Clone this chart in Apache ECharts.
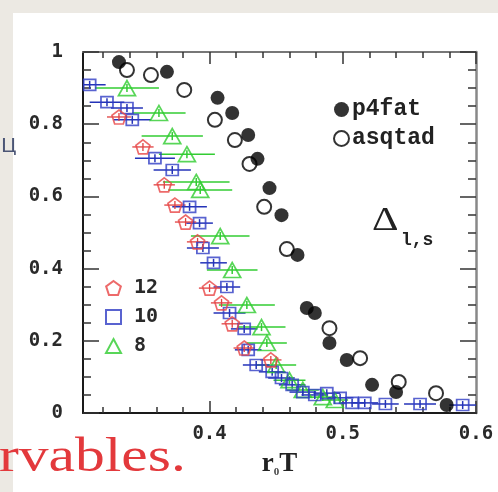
<!DOCTYPE html>
<html><head><meta charset="utf-8">
<script src="https://cdn.jsdelivr.net/npm/echarts@6/dist/echarts.min.js"></script>
<style>html,body{margin:0;padding:0;background:#fff}#c{width:498px;height:492px}</style>
</head><body><div id="c"></div><script>
// ---- data ----
const xMajorTicks = [0.4, 0.5, 0.6];
const xMinorTicks = [0.32,0.34,0.36,0.38,0.42,0.44,0.46,0.48,0.52,0.54,0.56,0.58];
const yMajorTicks = [0, 0.2, 0.4, 0.6, 0.8, 1];
const yMinorTicks = [0.05,0.1,0.15,0.25,0.3,0.35,0.45,0.5,0.55,0.65,0.7,0.75,0.85,0.9,0.95];

// [rT, value]
const p4fat = [[0.332,0.972],[0.368,0.945],[0.406,0.873],[0.417,0.831],[0.429,0.770],[0.436,0.704],[0.445,0.623],[0.454,0.548],[0.466,0.438],[0.473,0.291],[0.479,0.277],[0.490,0.194],[0.503,0.147],[0.522,0.078],[0.540,0.058],[0.578,0.022]];
const asqtad = [[0.338,0.950],[0.356,0.936],[0.381,0.895],[0.404,0.812],[0.419,0.756],[0.430,0.690],[0.441,0.571],[0.458,0.454],[0.490,0.235],[0.513,0.152],[0.542,0.086],[0.570,0.055]];
// [rT, value, rT error]
const nt8 = [[0.338,0.900,0.024],[0.362,0.831,0.020],[0.372,0.767,0.023],[0.383,0.717,0.021],[0.390,0.640,0.025],[0.393,0.618,0.024],[0.408,0.490,0.022],[0.417,0.396,0.019],[0.428,0.299,0.021],[0.439,0.238,0.018],[0.443,0.194,0.015],[0.450,0.133,0.015],[0.460,0.091,0.012],[0.470,0.064,0.012],[0.485,0.044,0.010],[0.494,0.036,0.010]];
const nt10 = [[0.310,0.909,0.012],[0.323,0.861,0.013],[0.338,0.845,0.012],[0.342,0.812,0.014],[0.359,0.706,0.015],[0.372,0.673,0.014],[0.385,0.571,0.013],[0.3925,0.526,0.010],[0.395,0.457,0.012],[0.403,0.416,0.010],[0.413,0.349,0.010],[0.415,0.277,0.012],[0.426,0.233,0.010],[0.429,0.175,0.010],[0.435,0.133,0.010],[0.447,0.114,0.010],[0.454,0.097,0.010],[0.462,0.078,0.010],[0.470,0.058,0.010],[0.479,0.050,0.010],[0.488,0.055,0.010],[0.498,0.042,0.010],[0.507,0.028,0.010],[0.5165,0.028,0.010],[0.532,0.025,0.010],[0.558,0.025,0.012],[0.590,0.022,0.010]];
const nt12 = [[0.332,0.820,0.009],[0.350,0.737,0.008],[0.366,0.632,0.008],[0.374,0.576,0.008],[0.382,0.529,0.008],[0.391,0.474,0.008],[0.400,0.346,0.008],[0.409,0.305,0.008],[0.417,0.247,0.008],[0.426,0.180,0.008],[0.446,0.147,0.008]];

const tickFont = {fontFamily:'DejaVu Sans Mono', fontWeight:'bold', fontSize:19, color:'#2a2a2a'};
const pentagon = 'path://M0,-1 L0.951,-0.309 L0.588,0.809 L-0.588,0.809 L-0.951,-0.309 Z';
const fmt = v => (v === 0 ? '0' : v === 1 ? '1' : v.toFixed(1));

function errSeries(data, color, width) {
  return {
    type:'custom', data, clip:true, silent:true, z:3,
    encode:{x:0, y:1},
    renderItem:(params, api) => {
      const x = api.value(0), y = api.value(1), e = api.value(2);
      const a = api.coord([x - e, y]), b = api.coord([x + e, y]), c = api.coord([x, y]);
      return {type:'group', children:[
        {type:'line', shape:{x1:a[0], y1:a[1], x2:b[0], y2:b[1]}, style:{stroke:color, lineWidth:width}},
        {type:'line', shape:{x1:c[0], y1:c[1]-4, x2:c[0], y2:c[1]+4}, style:{stroke:color, lineWidth:width}}
      ]};
    }
  };
}
function hollow(name, data, symbol, size, color) {
  return {type:'scatter', name, data, symbol, symbolSize:size, encode:{x:0, y:1}, z:4,
    itemStyle:{color:'rgba(255,255,255,0)', borderColor:color, borderWidth:1.7}};
}

function xAx(pos, ticks, len, labels, line) {
  return {type:'value', min:0.305, max:0.6, position:pos,
    axisLine:{show:!!line, onZero:false, lineStyle:line || {}},
    axisTick:{show:true, inside:true, length:len, customValues:ticks, lineStyle:{color:'#333', width:1.5}},
    axisLabel: labels ? {customValues:ticks, formatter:fmt, margin:12, ...tickFont} : {show:false},
    splitLine:{show:false}};
}
function yAx(pos, ticks, len, labels, line) {
  return {type:'value', min:0, max:1, position:pos,
    axisLine:{show:!!line, onZero:false, lineStyle:line || {}},
    axisTick:{show:true, inside:true, length:len, customValues:ticks, lineStyle:{color:'#333', width:1.5}},
    axisLabel: labels ? {customValues:ticks, formatter:fmt, margin:20, ...tickFont} : {show:false},
    splitLine:{show:false}};
}

const bottomX = xAx('bottom', xMajorTicks, 12, true, {color:'#1a1a1a', width:2});
bottomX.name = '{r|r}{s|0}{r|T}';
bottomX.nameLocation = 'middle';
bottomX.nameGap = 38;
bottomX.nameTextStyle = {fontFamily:'Liberation Serif', fontWeight:'bold', fontSize:27, color:'#222',
  rich:{r:{fontFamily:'Liberation Serif', fontWeight:'bold', fontSize:27, color:'#222'},
        s:{fontFamily:'Liberation Serif', fontSize:11, color:'#444', verticalAlign:'bottom', padding:[10,0,0,0]}}};

const chart = echarts.init(document.getElementById('c'), null, {renderer:'canvas'});
chart.setOption({
  animation:false,
  backgroundColor:'#ffffff',
  grid:{left:83, top:52, right:22, bottom:79},
  xAxis:[
    bottomX,
    xAx('bottom', xMinorTicks, 6, false, null),
    xAx('top', xMajorTicks, 12, false, {color:'#777', width:2}),
    xAx('top', xMinorTicks, 6, false, null)
  ],
  yAxis:[
    yAx('left', yMajorTicks, 16, true, {color:'#1a1a1a', width:2}),
    yAx('left', yMinorTicks, 8, false, null),
    yAx('right', yMajorTicks, 16, false, {color:'#888', width:2.5}),
    yAx('right', yMinorTicks, 8, false, null)
  ],
  legend:[
    {data:['p4fat','asqtad'], orient:'vertical', left:328, top:93, itemWidth:15, itemHeight:15, itemGap:6,
     selectedMode:false, textStyle:{fontFamily:'Liberation Mono', fontWeight:'bold', fontSize:23, color:'#222', padding:[0,0,0,-2]}},
    {data:['12','10','8'], orient:'vertical', left:100, top:273, itemWidth:15, itemHeight:14, itemGap:9,
     selectedMode:false, textStyle:{fontFamily:'DejaVu Sans Mono', fontWeight:'bold', fontSize:20, color:'#2a2a2a', padding:[0,0,0,8]}}
  ],
  graphic:[
    {type:'rect', z:-10, shape:{x:0, y:0, width:13, height:492}, style:{fill:'#ece9e3'}},
    {type:'rect', z:-10, shape:{x:0, y:0, width:498, height:13}, style:{fill:'#ece9e3'}},
    {type:'text', x:1, y:137, style:{text:'Ц', fontFamily:'DejaVu Sans', fontSize:20, fill:'#4b5575'}},
    {type:'text', x:372, y:238, scaleX:1.25, style:{text:'Δ', fontFamily:'Liberation Serif', fontSize:33, fill:'#222', verticalAlign:'bottom'}},
    {type:'text', x:401, y:249, style:{text:'l,s', fontFamily:'Liberation Mono', fontWeight:'bold', fontSize:18, fill:'#222', verticalAlign:'bottom'}},
    {type:'text', x:-1, y:482, scaleX:1.24, style:{text:'rvables.', fontFamily:'Liberation Serif', fontSize:48, fill:'#e3393c', verticalAlign:'bottom'}}
  ],
  series:[
    hollow('8', nt8, 'triangle', [17,15], '#2ecc2e'),
    errSeries(nt8, '#33cc33', 1.5),
    hollow('10', nt10, 'rect', [12,11], '#2f3cc4'),
    errSeries(nt10, '#2433b8', 1.5),
    hollow('12', nt12, pentagon, 14, '#e84545'),
    errSeries(nt12, '#e04040', 1.3),
    {type:'scatter', name:'p4fat', data:p4fat, symbol:'circle', symbolSize:14, z:5,
     itemStyle:{color:'#000'}},
    {type:'scatter', name:'asqtad', data:asqtad, symbol:'circle', symbolSize:14, z:5,
     itemStyle:{color:'rgba(255,255,255,0)', borderColor:'#000', borderWidth:2}}
  ]
});
</script></body></html>
